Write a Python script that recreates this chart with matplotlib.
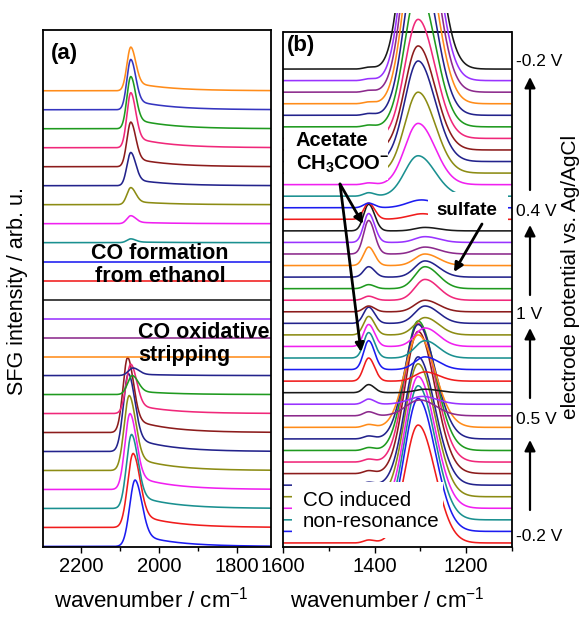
import numpy as np
import matplotlib
matplotlib.use('Agg')
import matplotlib.pyplot as plt
from matplotlib.patches import Rectangle, FancyArrowPatch
from matplotlib.ticker import MultipleLocator

plt.rcParams['font.family'] = ['Liberation Sans', 'DejaVu Sans']
plt.rcParams['mathtext.default'] = 'regular'

# ---------------- colours ----------------
K = '#1a1a1a'; R = '#f01c1c'; B = '#1c1cf0'; T = '#1a9090'; M = '#f020f0'
O = '#8c8c14'; N = '#23238c'; BR = '#8c1c1c'; P = '#f0287a'; G = '#1f9a1f'
OR = '#ff8c1a'; PU = '#8c2a8c'; V = '#9933ff'; NB = '#3535c0'

# ---------------- panel (a) data (bottom -> top) ----------------
a_colors = [B, R, T, M, O, N, BR, P, G, N, OR, PU, V, K,
            R, B, T, M, O, N, BR, P, G, NB, OR]
a_peak_pos = [2061, 2066, 2070, 2074, 2076, 2078, 2080, 2072, 2068, 2066,
              2070, 2070, 2070, 2070, 2070, 2070,
              2072, 2072, 2072, 2072, 2072, 2072, 2072, 2072, 2072]
a_peak_height = [3.5, 3.9, 3.9, 4.0, 3.95, 4.1, 3.95, 2.6, 1.0, 0.4,
                 0, 0, 0, 0, 0, 0,
                 0.2, 0.42, 0.9, 1.75, 2.35, 2.9, 2.75, 2.65, 2.3]
a_peak_width = [14, 14, 13, 13, 13, 13, 12, 12, 12, 12,
                10, 10, 10, 10, 10, 10,
                10, 10, 10, 10, 10, 10, 10, 10, 10]
a_xticks = [2200, 2000, 1800]

# ---------------- panel (b) data (bottom -> top) ----------------
b_cycle = [R, B, T, M, O, N, BR, P, G, N, OR, PU, V, K]
b_colors = b_cycle * 3
# CO induced non-resonant band (~1305 cm-1)
b_nonres = [10.2, 11.5, 11.6, 11.4, 11.5, 11.1, 12.3, 12.0, 11.2, 9.9, 8.0, 1.2, 0.4, 0,
            0, 0, 0, 0, 0, 0, 0, 0, 0, 0, 0, 0, 0, 0,
            0.3, 0.5, 3.5, 5.3, 7.0, 8.7, 9.0, 10.3, 12, 14, 16, 18, 20, 22]
# acetate band (~1413 cm-1)
b_acetate = [0.25] * 11 + [0.35, 0.45, 0.7,
             2.0, 2.5, 2.2, 1.9, 1.6, 1.4, 0.5, 0.35, 0.35, 0.9, 1.6, 2.9, 2.5, 2.3,
             1.4, 0.4, 0.3] + [0.15] * 11
# sulfate band (~1290 cm-1)
b_sulfate = [0] * 11 + [0.2, 0.3, 0.3, 0.8, 1.1, 1.5, 1.6, 1.5, 1.5, 1.0, 1.8, 1.9,
                        1.4, 1.0, 0.6, 0.5, 0.3, 0.2, 0.2] + [0] * 12
b_xticks = [1600, 1400, 1200]
b_potential_pos = [0.7, 10.8, 19.9, 28.8, 41.8]
b_potential_labels = ['-0.2 V', '0.5 V', '1 V', '0.4 V', '-0.2 V']

W, H = 585, 617
fig = plt.figure(figsize=(W / 100, H / 100), dpi=100)


def fx(px):
    return px / W


def fy(py):
    return 1 - py / H


def asym_gauss(w, w0, sl, sr):
    s = np.where(w >= w0, sl, sr)
    return np.exp(-(w - w0) ** 2 / (2 * s ** 2))


def co_peak(w, w0, h, s):
    # sharp rise on the high-wavenumber side, long tail towards low wavenumbers
    g = asym_gauss(w, w0, s, s * 1.25)
    tail = np.where(w < w0, np.exp(-np.clip(w0 - w, 0, None) / 90.0),
                    np.exp(-(w - w0) ** 2 / (2 * s ** 2)))
    return h * (0.8 * g + 0.2 * tail)


LW = 1.15

# ---------------- panel (a) ----------------
ax1 = fig.add_axes([fx(43), fy(547), fx(271) - fx(43), fy(30) - fy(547)])
wa = np.linspace(2300, 1700, 900)
for i, (c, p, h, s) in enumerate(zip(a_colors, a_peak_pos, a_peak_height, a_peak_width)):
    ax1.plot(wa, i + co_peak(wa, p, h, s), color=c, lw=LW)
ax1.set_xlim(2297, 1713)
ax1.set_ylim(-0.03, 27.2)
ax1.set_yticks([])
ax1.set_xticks(a_xticks)
ax1.xaxis.set_minor_locator(MultipleLocator(100))
ax1.tick_params(axis='x', which='both', direction='out', labelsize=14.5, pad=3)
ax1.tick_params(axis='x', which='major', length=4, width=1)
ax1.tick_params(axis='x', which='minor', length=3, width=1)
for sp in ax1.spines.values():
    sp.set_linewidth(1.3)

# ---------------- panel (b) ----------------
ax2 = fig.add_axes([fx(283), fy(547), fx(512) - fx(283), fy(13) - fy(547)])
wb = np.linspace(1600, 1100, 900)
for i, c in enumerate(b_colors):
    y = (i
         + b_nonres[i] * asym_gauss(wb, 1305, 29, 37)
         + b_acetate[i] * asym_gauss(wb, 1413, 11, 13)
         + b_sulfate[i] * asym_gauss(wb, 1290, 22, 30))
    ax2.plot(wb, y, color=c, lw=LW)
ytop = 44.2
ax2.set_xlim(1600, 1100)
ax2.set_ylim(-0.35, 45.85)
ax2.spines['top'].set_visible(False)
ax2.spines['left'].set_bounds(-0.35, ytop)
ax2.spines['right'].set_bounds(-0.35, ytop)
ax2.axhline(ytop, color='k', lw=1.3, zorder=1)
for sp in ax2.spines.values():
    sp.set_linewidth(1.3)
ax2.set_xticks(b_xticks)
ax2.xaxis.set_minor_locator(MultipleLocator(100))
ax2.tick_params(axis='x', which='both', direction='out', labelsize=14.5, pad=3)
ax2.tick_params(axis='x', which='major', length=4, width=1)
ax2.tick_params(axis='x', which='minor', length=3, width=1)
ax2.yaxis.tick_right()
ax2.set_yticks(b_potential_pos)
ax2.set_yticklabels(b_potential_labels)
ax2.tick_params(axis='y', length=0, pad=3, labelsize=12.5)

# ---------------- masks behind labels ----------------
for (x0, y0, x1, y1) in [(284, 128, 388, 180), (292, 482, 443, 538), (428, 192, 508, 226)]:
    fig.add_artist(Rectangle((fx(x0), fy(y1)), fx(x1) - fx(x0), fy(y0) - fy(y1),
                             transform=fig.transFigure, facecolor='white',
                             edgecolor='none', zorder=2))

# ---------------- texts ----------------
fig.text(fx(51), fy(54), '(a)', fontsize=16, fontweight='bold', va='center', ha='left', zorder=4)
fig.text(fx(287), fy(46), '(b)', fontsize=16, fontweight='bold', va='center', ha='left', zorder=4)
fig.text(fx(160), fy(265), 'CO formation\nfrom ethanol', fontsize=15.5, fontweight='bold',
         ha='center', va='center', linespacing=1.1, zorder=4)
fig.text(fx(138), fy(344), 'CO oxidative\nstripping', fontsize=15.5, fontweight='bold',
         ha='left', va='center', linespacing=1.1, zorder=4)
fig.text(fx(296), fy(153), 'Acetate\nCH$_3$COO$^{-}$', fontsize=14.5, fontweight='bold',
         ha='left', va='center', linespacing=1.25, zorder=4)
fig.text(fx(467), fy(210), 'sulfate', fontsize=13.6, fontweight='bold',
         ha='center', va='center', zorder=4)
fig.text(fx(303), fy(511), 'CO induced\nnon-resonance', fontsize=14.8,
         ha='left', va='center', linespacing=1.1, zorder=4)

fig.text(fx(18), fy(291), 'SFG intensity / arb. u.', fontsize=15.5, rotation=90,
         ha='center', va='center')
fig.text(fx(571), fy(277), 'electrode potential vs. Ag/AgCl', fontsize=15, rotation=90,
         ha='center', va='center')
fig.text(fx(151), fy(600), 'wavenumber / cm$^{-1}$', fontsize=16, ha='center', va='center')
fig.text(fx(387), fy(600), 'wavenumber / cm$^{-1}$', fontsize=16, ha='center', va='center')

# ---------------- arrows ----------------
def arrow(p0, p1, lw=1.6, ms=14):
    fig.add_artist(FancyArrowPatch((fx(p0[0]), fy(p0[1])), (fx(p1[0]), fy(p1[1])),
                                   transform=fig.transFigure, arrowstyle='-|>',
                                   mutation_scale=ms, lw=lw, color='k', zorder=5,
                                   shrinkA=0, shrinkB=0))

for (t, h) in [(510, 440), (398, 328), (295, 225), (190, 77)]:
    arrow((530, t), (530, h), lw=1.6, ms=16)
arrow((340, 184), (363, 224), lw=2.0, ms=13)
arrow((340, 184), (361, 352), lw=2.0, ms=13)
arrow((482, 224), (454, 272), lw=2.0, ms=13)

fig.savefig('out.png', dpi=100)
